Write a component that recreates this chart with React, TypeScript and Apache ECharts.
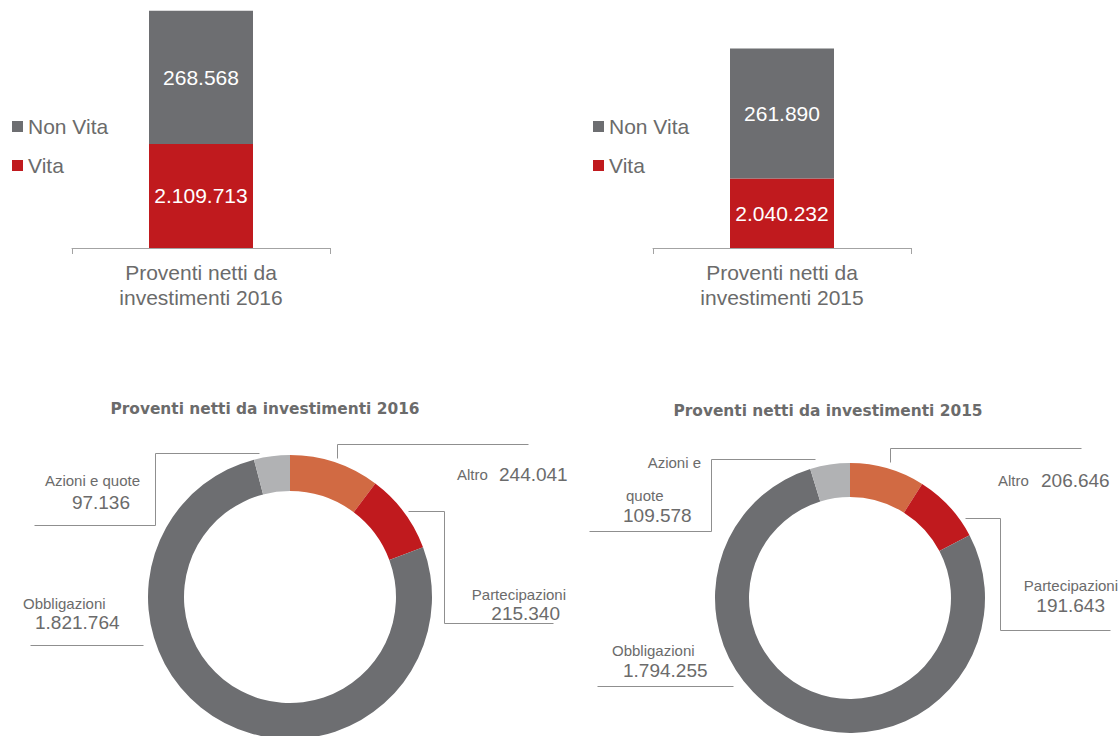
import React, { useEffect, useRef } from 'react';
import * as echarts from 'echarts';

// ---------- data ----------
const barCategory2016 = ['Proventi netti da\ninvestimenti 2016'];
const barCategory2015 = ['Proventi netti da\ninvestimenti 2015'];
const legendNames = ['Non Vita', 'Vita'];
const vita2016 = [2109713];
const nonVita2016 = [268568];
const vita2015 = [2040232];
const nonVita2015 = [261890];

const pieCategories = ['Altro', 'Partecipazioni', 'Obbligazioni', 'Azioni e quote'];
const pie2016 = [244041, 215340, 1821764, 97136];
const pie2015 = [206646, 191643, 1794255, 109578];
const pieTitles = ['Proventi netti da investimenti 2016', 'Proventi netti da investimenti 2015'];

// ---------- styles ----------
const FONT = '"Liberation Sans", Arial, sans-serif';
const TEXT = '#6b6b6b';
const GRAY = '#6d6e71';
const RED = '#c01a1e';
const ORANGE = '#d16a43';
const LIGHT = '#b1b2b4';
const LINE = '#8f8f8f';
const pieColors = [ORANGE, RED, GRAY, LIGHT];

const fmt = (n: number) => String(n).replace(/\B(?=(\d{3})+(?!\d))/g, '.');

// label layout per donut, per category: name lines positions + value position
type P = [number, number, 'left' | 'right' | 'center'];
const labelLayout2016: { name: P[]; value: P }[] = [
  { name: [[457, 474, 'left']], value: [499, 474, 'left'] },
  { name: [[566, 594, 'right']], value: [560, 613, 'right'] },
  { name: [[23, 603, 'left']], value: [35, 622, 'left'] },
  { name: [[140, 480, 'right']], value: [130, 502, 'right'] },
];
const labelLayout2015: { name: P[]; value: P }[] = [
  { name: [[998, 480, 'left']], value: [1041, 480, 'left'] },
  { name: [[1118, 585, 'right']], value: [1105, 605, 'right'] },
  { name: [[612, 650, 'left']], value: [623, 670, 'left'] },
  { name: [[701, 462, 'right'], [626, 495, 'left']], value: [623, 515, 'left'] },
];
const leaders2016: number[][][] = [
  [[337, 458], [337, 444], [528, 444]],
  [[408, 511], [444, 511], [444, 623], [553, 623]],
  [[30, 645], [143, 645]],
  [[259, 453], [155, 453], [155, 525], [34, 525]],
];
const leaders2015: number[][][] = [
  [[890, 462], [890, 448], [1081, 448]],
  [[965, 518], [1000, 518], [1000, 630], [1110, 630]],
  [[597, 686], [733, 686]],
  [[815, 459], [711, 459], [711, 531], [589, 531]],
];

function splitName(name: string, parts: number): string[] {
  if (parts <= 1) return [name];
  const idx = name.lastIndexOf(' ');
  return [name.slice(0, idx), name.slice(idx + 1)];
}

function textEl(text: string, p: P, size: number) {
  return {
    type: 'text',
    x: p[0],
    y: p[1],
    silent: true,
    style: {
      text,
      fontSize: size,
      fontFamily: FONT,
      fill: TEXT,
      align: p[2],
      verticalAlign: 'middle',
      textAlign: p[2],
      textVerticalAlign: 'middle',
    },
  };
}

function donutGraphics(values: number[], layout: { name: P[]; value: P }[], leaders: number[][][]) {
  const els: any[] = [];
  pieCategories.forEach((cat, i) => {
    const l = layout[i];
    const lines = splitName(cat, l.name.length);
    lines.forEach((t, k) => els.push(textEl(t, l.name[k], 15)));
    els.push(textEl(fmt(values[i]), l.value, 19));
    els.push({
      type: 'polyline',
      silent: true,
      shape: { points: leaders[i].map(([x, y]) => [x + 0.5, y + 0.5]) },
      style: { stroke: LINE, lineWidth: 1, fill: null },
    });
  });
  return els;
}

function barAxis(gridIndex: number, data: string[]) {
  return {
    type: 'category',
    gridIndex,
    data,
    axisLine: { lineStyle: { color: '#a3a3a3', width: 1 } },
    axisTick: { show: true, length: 6, lineStyle: { color: '#a3a3a3' } },
    axisLabel: { fontSize: 21, color: TEXT, lineHeight: 25, margin: 12, fontFamily: FONT },
  };
}

function valAxis(gridIndex: number) {
  return { type: 'value', gridIndex, min: 1900000, max: 2400000, show: false, splitLine: { show: false } };
}

function barSeries(name: string, idx: number, data: number[], color: string) {
  return {
    type: 'bar',
    name,
    stack: 'total' + idx,
    xAxisIndex: idx,
    yAxisIndex: idx,
    data,
    barWidth: 104,
    itemStyle: { color },
    label: {
      show: true,
      position: 'inside',
      color: '#ffffff',
      fontSize: 21,
      fontFamily: FONT,
      formatter: (p: any) => fmt(p.value),
    },
  };
}

function legend(left: number) {
  return {
    data: legendNames,
    orient: 'vertical',
    left,
    top: 116,
    padding: 0,
    icon: 'rect',
    itemWidth: 11,
    itemHeight: 11,
    itemGap: 18,
    selectedMode: false,
    textStyle: { fontSize: 21, color: TEXT, lineHeight: 21, fontFamily: FONT },
  };
}

function pieSeries(center: number[], radius: number[], values: number[]) {
  return {
    type: 'pie',
    center,
    radius,
    startAngle: 90,
    clockwise: true,
    silent: true,
    label: { show: false },
    labelLine: { show: false },
    data: pieCategories.map((name, i) => ({ name, value: values[i], itemStyle: { color: pieColors[i] } })),
  };
}

export default function App() {
  const ref = useRef<HTMLDivElement>(null);
  useEffect(() => {
    document.body.style.margin = '0';
    const chart = echarts.init(ref.current!, undefined, { renderer: 'svg' });
    chart.setOption({
      animation: false,
      backgroundColor: '#ffffff',
      textStyle: { fontFamily: FONT },
      title: [
        {
          text: pieTitles[0], left: 265, top: 401, padding: 0, textAlign: 'center', textVerticalAlign: 'top',
          textStyle: { fontSize: 15.4, fontWeight: 'bold', color: TEXT, fontFamily: '"DejaVu Sans", sans-serif' },
        },
        {
          text: pieTitles[1], left: 828, top: 403, padding: 0, textAlign: 'center', textVerticalAlign: 'top',
          textStyle: { fontSize: 15.4, fontWeight: 'bold', color: TEXT, fontFamily: '"DejaVu Sans", sans-serif' },
        },
      ],
      legend: [legend(12), legend(593)],
      grid: [
        { left: 72, top: 0, width: 258, height: 248 },
        { left: 653, top: 0, width: 258, height: 248 },
      ],
      xAxis: [barAxis(0, barCategory2016), barAxis(1, barCategory2015)],
      yAxis: [valAxis(0), valAxis(1)],
      series: [
        barSeries('Vita', 0, vita2016, RED),
        barSeries('Non Vita', 0, nonVita2016, GRAY),
        barSeries('Vita', 1, vita2015, RED),
        barSeries('Non Vita', 1, nonVita2015, GRAY),
        pieSeries([290, 597], [106, 142], pie2016),
        pieSeries([850, 598], [101, 135], pie2015),
      ],
      graphic: [
        ...donutGraphics(pie2016, labelLayout2016, leaders2016),
        ...donutGraphics(pie2015, labelLayout2015, leaders2015),
      ],
    });
    return () => chart.dispose();
  }, []);
  return <div ref={ref} style={{ position: 'absolute', left: 0, top: 0, width: 1119, height: 736 }} />;
}
